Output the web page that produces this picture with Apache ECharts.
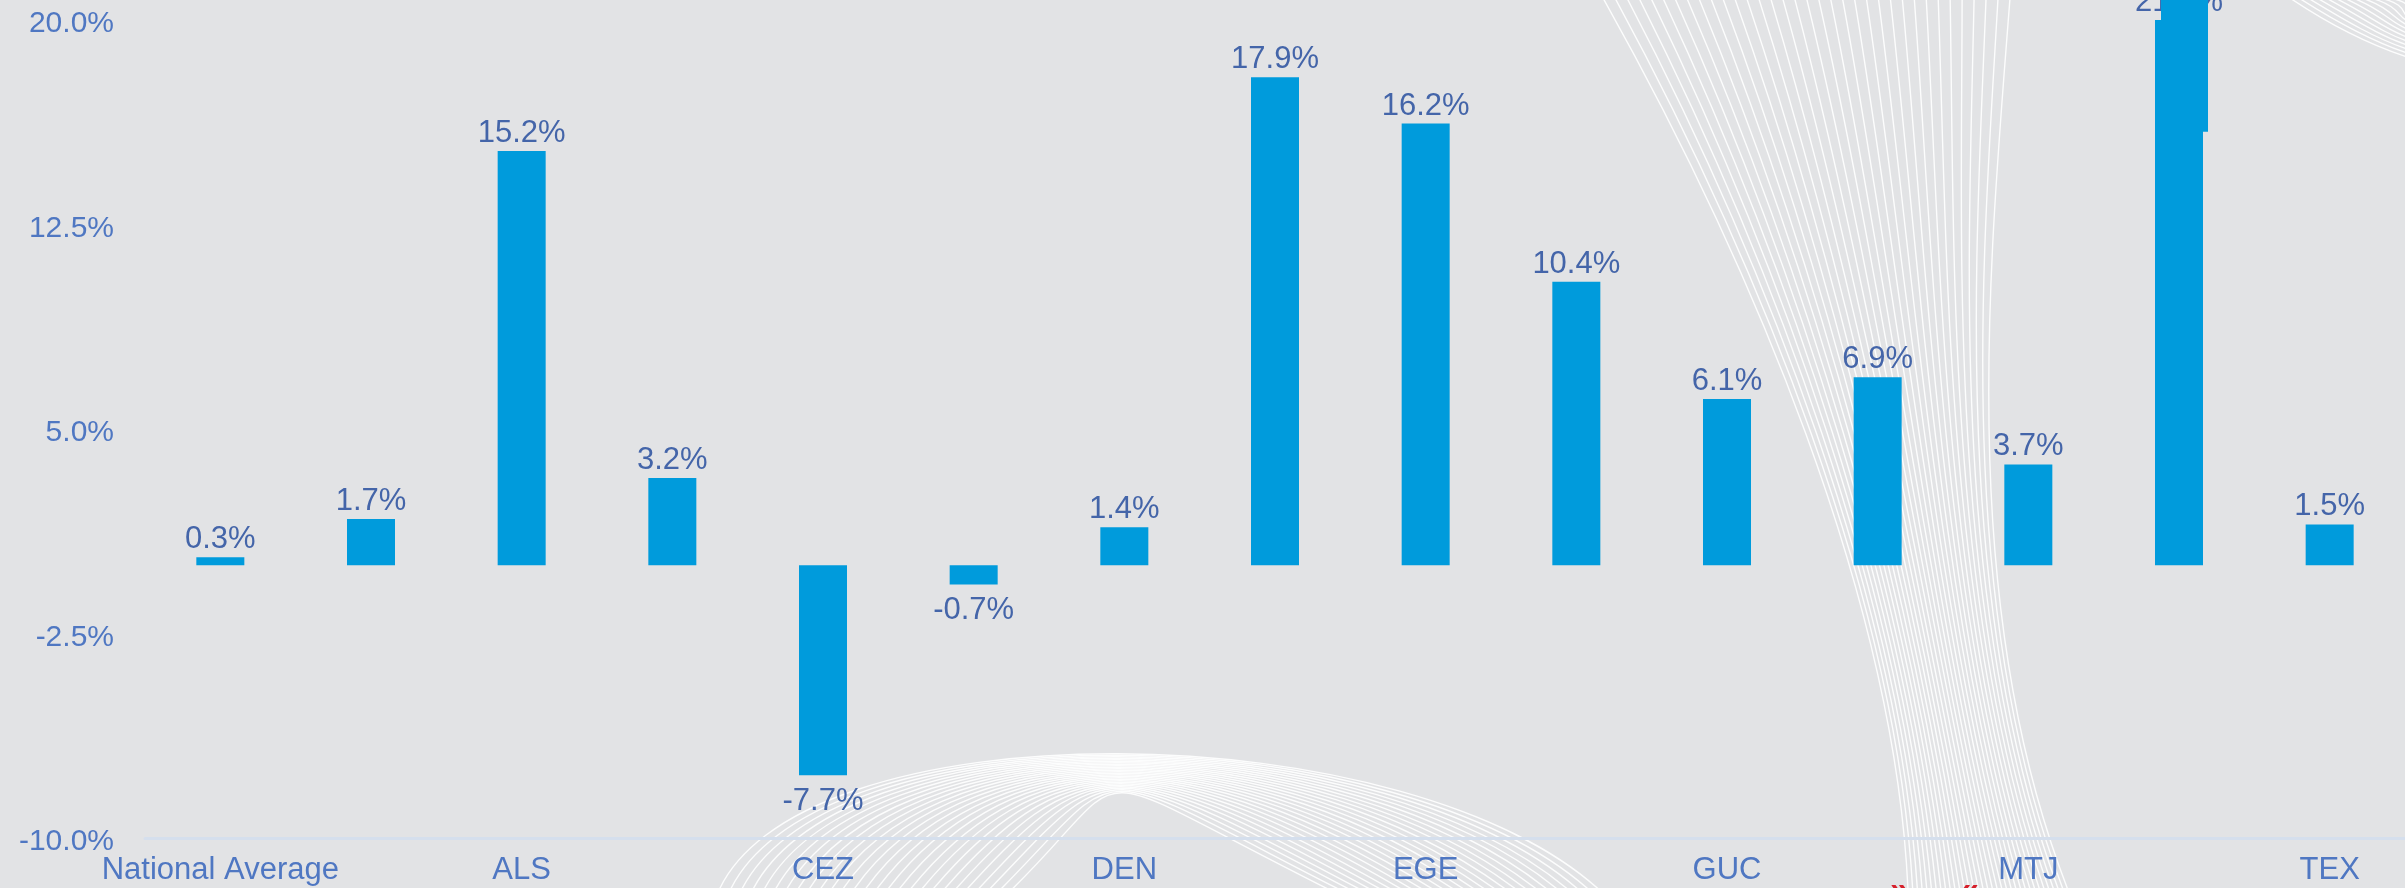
<!DOCTYPE html>
<html>
<head>
<meta charset="utf-8">
<script src="https://cdn.jsdelivr.net/npm/echarts@6/dist/echarts.min.js"></script>
<style>
html, body { margin: 0; padding: 0; background: #e2e3e5; }
#chart { width: 2405px; height: 888px; }
</style>
</head>
<body>
<div id="chart"></div>
<script>
// categories (every other one gets a label on the axis)
var categories = ['National Average', 'Colorado Average', 'ALS', 'ASE', 'CEZ', 'COS', 'DEN', 'DRO',
  'EGE', 'GJT', 'GUC', 'HDN', 'MTJ', 'PUB', 'TEX']
// change, in percent
var changeValues = [0.3, 1.7, 15.2, 3.2, -7.7, -0.7, 1.4, 17.9, 16.2, 10.4, 6.1, 6.9, 3.7, 21.4, 1.5]
// y axis ticks: -10.0% ... 20.0%
var yTicks = [-10, -2.5, 5, 12.5, 20]
// the odd block sitting over the PUB bar: [category index, from, to]
var overlayRange = [[13, 15.9, 22.5]]

var chartDom = document.getElementById('chart')
var myChart = echarts.init(chartDom)

function curve (x1, y1, cx1, cy1, cx2, cy2, x2, y2, stroke) {
  return {
    type: 'bezierCurve', silent: true, z: -10,
    shape: { x1: x1, y1: y1, cpx1: cx1, cpy1: cy1, cpx2: cx2, cpy2: cy2, x2: x2, y2: y2 },
    style: { stroke: stroke, lineWidth: 1.4, fill: null }
  }
}

// background swooshes (decoration only)
function swooshes () {
  var els = []
  var white = 'rgba(255,255,255,0.9)'
  // funnel going down through GUC / MTJ
  for (var i = 0; i <= 34; i++) {
    var t = i / 34
    els.push(curve(1603 + 407 * t, -2, 1750 + 240 * t, 260, 1895 + 60 * t, 600, 1908 + 160 * t, 890, white))
  }
  // arch at the bottom between CEZ and EGE
  for (var k = 0; k <= 26; k++) {
    var lx = 715 + 11 * k
    var rx = 1610 - 10 * k
    els.push(curve(lx, 900, lx + 70 + 3 * k, 702 + 2.2 * k, rx - 190 - 4 * k, 708 + 1.8 * k, rx, 900, white))
  }
  // band in the top right corner
  for (var j = 0; j <= 12; j++) {
    els.push(curve(2290 + 9 * j, -2, 2330 + 8 * j, 25 - 2 * j, 2370 + 3 * j, 45 - 3 * j, 2410, 58 - 4 * j, white))
  }
  // red chevrons peeking in at the bottom
  els.push({ type: 'text', silent: true, left: 1890, top: 874,
    style: { text: '»', fill: '#d6202b', font: 'bold 34px "Liberation Sans", Arial' } })
  els.push({ type: 'text', silent: true, left: 1960, top: 874,
    style: { text: '«', fill: '#d6202b', font: 'bold 34px "Liberation Sans", Arial' } })
  return els
}

// negative bars carry their label underneath
var barData = changeValues.map(function (v) {
  return v < 0 ? { value: v, label: { position: 'bottom', distance: 11 } } : v
})

var option = {
  backgroundColor: '#e2e3e5',
  animation: false,
  textStyle: { fontFamily: '"Liberation Sans", Arial, sans-serif' },
  grid: {
    left: 145,
    width: 2276,
    top: 20,
    bottom: 50
  },
  graphic: swooshes(),
  xAxis: {
    type: 'category',
    data: categories,
    axisLine: { onZero: false, lineStyle: { color: '#d5dfed', width: 3 } },
    axisTick: { show: false },
    axisLabel: {
      interval: 1,
      color: '#4f77c2',
      fontSize: 31,
      margin: 17
    }
  },
  yAxis: {
    type: 'value',
    min: yTicks[0],
    max: yTicks[yTicks.length - 1],
    interval: 7.5,
    axisLine: { show: false },
    axisTick: { show: false },
    splitLine: { show: false },
    axisLabel: {
      margin: 31,
      formatter: function (v) { return '{t|' + v.toFixed(1) + '%}' },
      rich: {
        t: { color: '#4f77c2', fontSize: 30, padding: [8, 0, 0, 0] }
      }
    }
  },
  series: [
    {
      type: 'bar',
      data: barData,
      barWidth: 48,
      itemStyle: { color: '#009bdc' },
      label: {
        show: true,
        position: 'top',
        distance: 2,
        color: '#4465a9',
        fontSize: 31,
        formatter: function (p) { return p.value.toFixed(1) + '%' }
      },
      z: 2
    },
    {
      type: 'custom',
      data: overlayRange,
      z: 5,
      clip: false,
      renderItem: function (params, api) {
        var top = api.coord([api.value(0), api.value(2)])
        var bottom = api.coord([api.value(0), api.value(1)])
        return {
          type: 'rect',
          shape: { x: top[0] - 24 + 6, y: top[1], width: 47, height: bottom[1] - top[1] },
          style: { fill: '#009bdc' }
        }
      }
    }
  ]
}

option && myChart.setOption(option)
</script>
</body>
</html>
